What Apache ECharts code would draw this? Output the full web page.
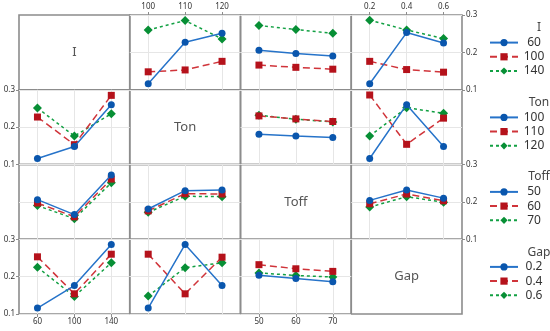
<!DOCTYPE html>
<html>
<head>
<meta charset="utf-8">
<script src="https://cdn.jsdelivr.net/npm/echarts@6/dist/echarts.min.js"></script>
<style>
  html, body { margin: 0; padding: 0; background: #fff; }
  #chart { width: 550px; height: 331px; }
</style>
</head>
<body>
<div id="chart"></div>
<script>
// ---- Data -------------------------------------------------------------
const factorNames = ['I', 'Ton', 'Toff', 'Gap'];
const I_levels    = ['60', '100', '140'];
const Ton_levels  = ['100', '110', '120'];
const Toff_levels = ['50', '60', '70'];
const Gap_levels  = ['0.2', '0.4', '0.6'];
const yTickValues = [0.1, 0.2, 0.3];

// two-way means: rows = levels of first factor, columns = levels of second factor
const mean_I_Ton = [
  [0.116, 0.227, 0.251],
  [0.148, 0.153, 0.176],
  [0.260, 0.285, 0.236]
];
const mean_I_Toff = [
  [0.206, 0.197, 0.190],
  [0.166, 0.160, 0.155],
  [0.272, 0.261, 0.251]
];
const mean_I_Gap = [
  [0.116, 0.253, 0.225],
  [0.176, 0.154, 0.147],
  [0.286, 0.260, 0.237]
];
const mean_Ton_Toff = [
  [0.181, 0.176, 0.172],
  [0.230, 0.222, 0.215],
  [0.232, 0.221, 0.214]
];
const mean_Ton_Gap = [
  [0.116, 0.260, 0.148],
  [0.286, 0.154, 0.224],
  [0.176, 0.252, 0.237]
];
const mean_Toff_Gap = [
  [0.204, 0.232, 0.210],
  [0.195, 0.221, 0.203],
  [0.186, 0.214, 0.199]
];

// ---- Build options ----------------------------------------------------
const levels = [I_levels, Ton_levels, Toff_levels, Gap_levels];
const tables = {
  '0_1': mean_I_Ton, '0_2': mean_I_Toff, '0_3': mean_I_Gap,
  '1_2': mean_Ton_Toff, '1_3': mean_Ton_Gap, '2_3': mean_Toff_Gap
};
function meanOf(traceF, traceL, xF, xL) {
  if (traceF < xF) return tables[traceF + '_' + xF][traceL][xL];
  return tables[xF + '_' + traceF][xL][traceL];
}

const styles = [
  { symbol: 'circle',  size: 7, line: '#2673c9', fill: '#0a56ad', type: 'solid' },
  { symbol: 'rect',    size: 7, line: '#d0343a', fill: '#b5121b', type: [7, 4] },
  { symbol: 'diamond', size: 9, line: '#12a043', fill: '#078f35', type: [3, 3] }
];

const X0 = 19, Y0 = 15, CW = 110.75, CH = 74.75;
const borderColor = '#8c8c8c';
const labelColor = '#333';
const labelFont = 'Noto Sans';

const grids = [], xAxes = [], yAxes = [], series = [], graphics = [];

for (let r = 0; r < 4; r++) {
  for (let c = 0; c < 4; c++) {
    const g = r * 4 + c;
    const diag = r === c;
    grids.push({
      left: X0 + CW * c, top: Y0 + CH * r, width: CW, height: CH,
      show: true, borderColor: borderColor, borderWidth: 1.6, backgroundColor: 'transparent'
    });
    const xTop = (c === 1 || c === 3) && r === 0;
    const xBottom = (c === 0 || c === 2) && r === 3;
    const yLeft = (r === 1 || r === 3) && c === 0;
    const yRight = (r === 0 || r === 2) && c === 3;
    xAxes.push({
      gridIndex: g, type: 'category', data: levels[c], boundaryGap: true,
      show: !diag,
      position: xTop ? 'top' : 'bottom',
      axisLine: { show: false },
      axisTick: { show: xTop || xBottom, alignWithLabel: true, length: 3, lineStyle: { color: borderColor } },
      axisLabel: { show: xTop || xBottom, fontSize: 8, color: labelColor, fontFamily: labelFont, margin: 4 },
      splitLine: { show: !diag, alignWithLabel: true, lineStyle: { color: '#e6e6e6', width: 1 } }
    });
    yAxes.push({
      gridIndex: g, type: 'value', min: 0.1, max: 0.3, interval: 0.1,
      show: !diag,
      position: yRight ? 'right' : 'left',
      axisLine: { show: false },
      axisTick: { show: yLeft || yRight, length: 3, lineStyle: { color: borderColor } },
      axisLabel: {
        show: yLeft || yRight, fontSize: 8, color: labelColor, fontFamily: labelFont, margin: 4,
        formatter: function (v) { return yTickValues.indexOf(Math.round(v * 10) / 10) >= 0 ? v.toFixed(1) : ''; }
      },
      splitLine: { show: !diag, lineStyle: { color: '#e6e6e6', width: 1 } }
    });
    if (diag) {
      graphics.push({
        type: 'text', x: X0 + CW * c + CW / 2, y: Y0 + CH * r + CH / 2,
        style: { text: factorNames[r], fill: '#555', font: '13px "Noto Sans"', textAlign: 'center', textVerticalAlign: 'middle' }
      });
      continue;
    }
    for (let a = 0; a < 3; a++) {
      const st = styles[a];
      series.push({
        type: 'line',
        name: factorNames[r] + ':' + levels[r][a],
        xAxisIndex: g, yAxisIndex: g,
        data: levels[c].map(function (_, b) { return meanOf(r, a, c, b); }),
        symbol: st.symbol, symbolSize: st.size,
        itemStyle: { color: st.fill },
        lineStyle: { color: st.line, width: 1.5, type: st.type },
        z: 3 - a,
        animation: false
      });
    }
  }
}

// legends: one per row factor
const legendTitleY = [28, 103, 177, 253];
const legendFirstY = [42.7, 117.5, 192, 267];
const legends = [];
for (let r = 0; r < 4; r++) {
  graphics.push({
    type: 'text', x: 539, y: legendTitleY[r],
    style: { text: factorNames[r], fill: '#444', font: '12px "Noto Sans"', textAlign: 'center', textVerticalAlign: 'middle' }
  });
  legends.push({
    orient: 'vertical', left: 489, top: legendFirstY[r] - 6.1,
    padding: 0,
    itemWidth: 28, itemHeight: 9, itemGap: 2.2, itemTextGap: 11,
    selectedMode: false,
    data: levels[r].map(function (l) { return factorNames[r] + ':' + l; }),
    formatter: function (name) { return '{t|' + name.split(':')[1] + '}'; },
    textStyle: {
      fontSize: 12, color: '#333', fontFamily: 'Noto Sans',
      rich: { t: { width: 22, align: 'center', fontSize: 12, color: '#333', fontFamily: 'Noto Sans' } }
    }
  });
}

const chart = echarts.init(document.getElementById('chart'), null, { renderer: 'canvas' });
chart.setOption({
  animation: false,
  backgroundColor: '#ffffff',
  grid: grids,
  xAxis: xAxes,
  yAxis: yAxes,
  legend: legends,
  series: series,
  graphic: graphics
});
</script>
</body>
</html>
